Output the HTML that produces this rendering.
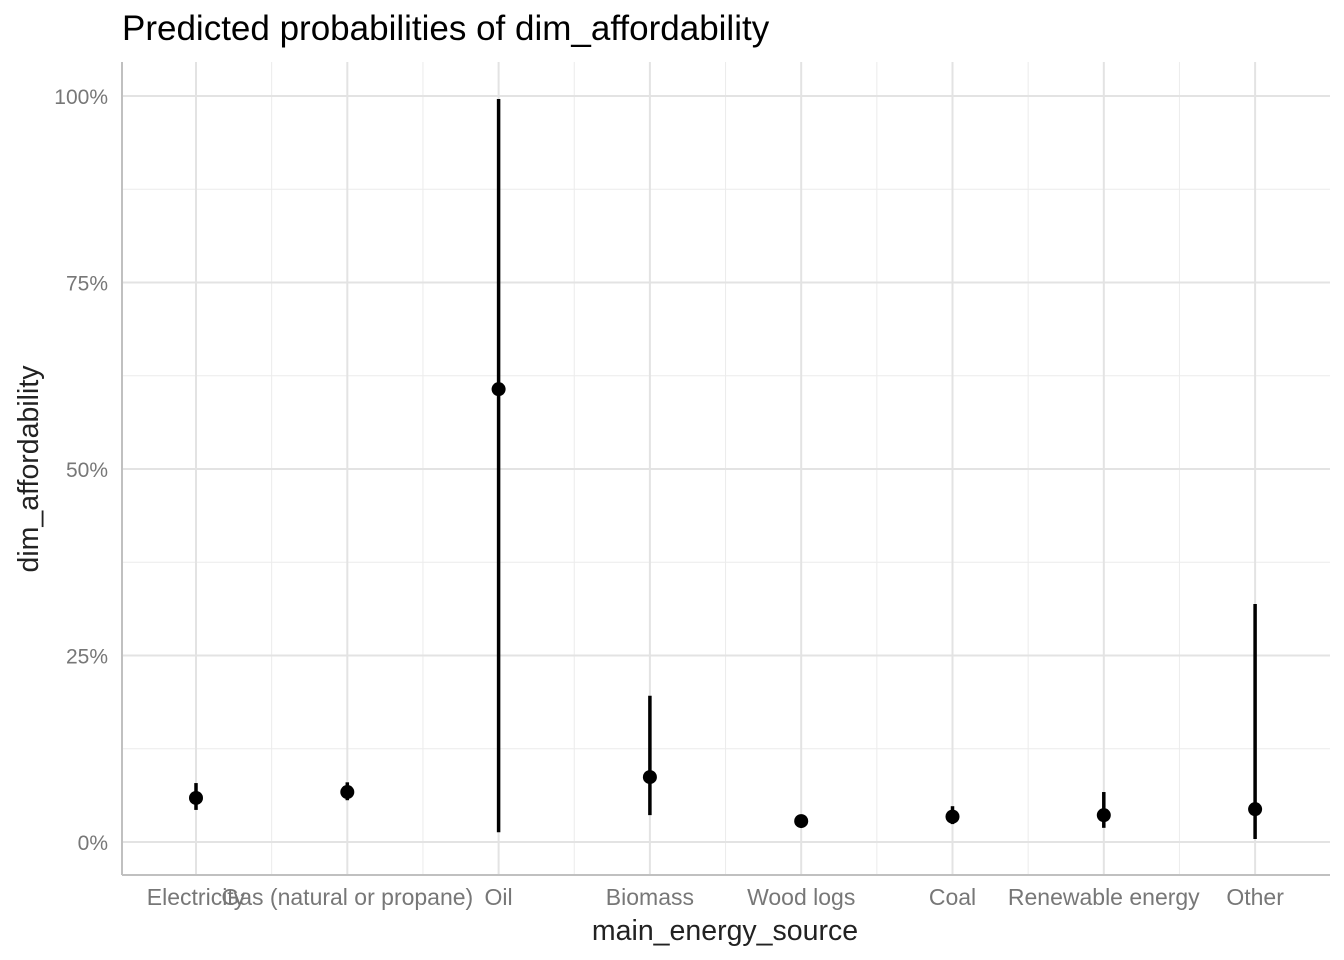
<!DOCTYPE html>
<html><head><meta charset="utf-8"><style>
body{margin:0;background:#fff;}
svg{display:block;font-family:"Liberation Sans",Arial,sans-serif;}
</style></head><body>
<svg id="chart" width="1344" height="960">
<text x="122" y="40" font-size="35" fill="#000">Predicted probabilities of dim_affordability</text>
<g id="grid"></g>
<g id="marks"></g>
<line x1="122" y1="62" x2="122" y2="875" stroke="#c0c0c0" stroke-width="2"/>
<line x1="122" y1="875" x2="1330" y2="875" stroke="#c0c0c0" stroke-width="2"/>
<text x="725" y="940" font-size="28.5" text-anchor="middle" fill="#222">main_energy_source</text>
<text transform="translate(38,469) rotate(-90)" font-size="28.5" text-anchor="middle" fill="#222">dim_affordability</text>
</svg>
<script>
const categories=["Electricity","Gas (natural or propane)","Oil","Biomass","Wood logs","Coal","Renewable energy","Other"];
const estimates=[5.9,6.7,60.7,8.7,2.8,3.4,3.6,4.4];
const lowers=[4.3,5.6,1.3,3.6,2.1,2.4,1.9,0.4];
const uppers=[7.9,8.0,99.6,19.6,3.5,4.8,6.7,31.9];
const yTicks=[0,25,50,75,100];
const yTickLabels=["0%","25%","50%","75%","100%"];
const NS="http://www.w3.org/2000/svg";
const y=v=>842-v*7.46;
const x=i=>196+i*151.3;
const grid=document.getElementById('grid'),marks=document.getElementById('marks'),svg=document.getElementById('chart');
function mk(p,tag,attrs){const e=document.createElementNS(NS,tag);for(const k in attrs)e.setAttribute(k,attrs[k]);p.appendChild(e);return e;}
for(let i=0;i<yTicks.length-1;i++){const v=(yTicks[i]+yTicks[i+1])/2;
const l=mk(grid,'line',{x1:122,x2:1330,y1:y(v),y2:y(v),stroke:'#ececec','stroke-width':1});

}
for(let i=0;i<categories.length-1;i++){const xv=(x(i)+x(i+1))/2;
const l=mk(grid,'line',{x1:xv,x2:xv,y1:62,y2:875,stroke:'#ececec','stroke-width':1});

}
yTicks.forEach((v,i)=>{
const l=mk(grid,'line',{x1:122,x2:1330,y1:y(v),y2:y(v),stroke:'#e3e3e3','stroke-width':2});


const t=mk(svg,'text',{x:108,y:y(v)+8,'font-size':21,'text-anchor':'end',fill:'#777'});
t.textContent=yTickLabels[i];

});
categories.forEach((c,i)=>{
const g=mk(grid,'line',{x1:x(i),x2:x(i),y1:62,y2:875,stroke:'#e3e3e3','stroke-width':2});


const t=mk(svg,'text',{x:x(i),y:905,'font-size':23,'text-anchor':'middle',fill:'#777'});
t.textContent=c;


const e=mk(marks,'line',{x1:x(i),x2:x(i),y1:y(uppers[i]),y2:y(lowers[i]),stroke:'#000','stroke-width':3.5});


const p=mk(marks,'circle',{cx:x(i),cy:y(estimates[i]),r:7,fill:'#000'});

});
</script>
</body></html>
